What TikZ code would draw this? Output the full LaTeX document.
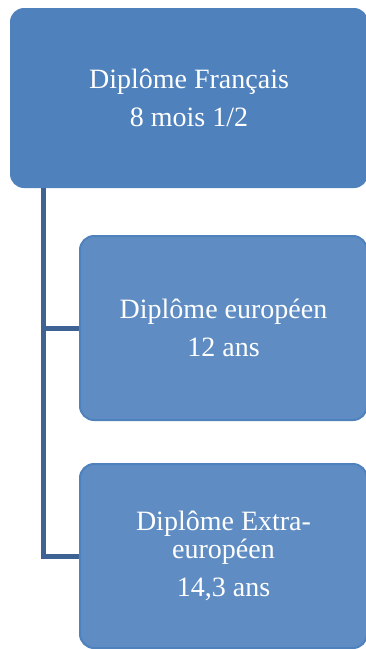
\documentclass[tikz,border=0pt]{standalone}
\usepackage{fontspec}
\setmainfont{Liberation Serif}
\definecolor{topfill}{HTML}{4F81BD}
\definecolor{childfill}{HTML}{5F8DC3}
\definecolor{childline}{HTML}{4F81BD}
\definecolor{connline}{HTML}{3E6294}
\tikzset{
  box/.style={rounded corners=14pt, inner sep=0pt, align=center, text=white,
    font=\fontsize{28}{28}\selectfont},
  topbox/.style={box, fill=topfill},
  childbox/.style={box, fill=childfill, draw=childline, line width=2pt},
  conn/.style={draw=connline, line width=5pt}
}
\begin{document}
\begin{tikzpicture}[x=1pt,y=1pt]
\useasboundingbox (0,0) rectangle (366,-649);
\node[topbox, minimum width=358pt, minimum height=180pt] (top) at (189,-98)
  {Diplôme Français\\[10pt]8 mois 1/2};
\node[childbox, minimum width=287pt, minimum height=184pt] (mid) at (223.5,-328)
  {Diplôme européen\\[10pt]12 ans};
\node[childbox, minimum width=287pt, minimum height=184pt] (bot) at (223.5,-556)
  {Diplôme Extra-\\européen\\[10pt]14,3 ans};
\coordinate (spine) at (43.5,0);
\draw[conn] (spine |- top.south) |- (mid.west);
\draw[conn] (spine |- top.south) |- (bot.west);
\end{tikzpicture}
\end{document}
